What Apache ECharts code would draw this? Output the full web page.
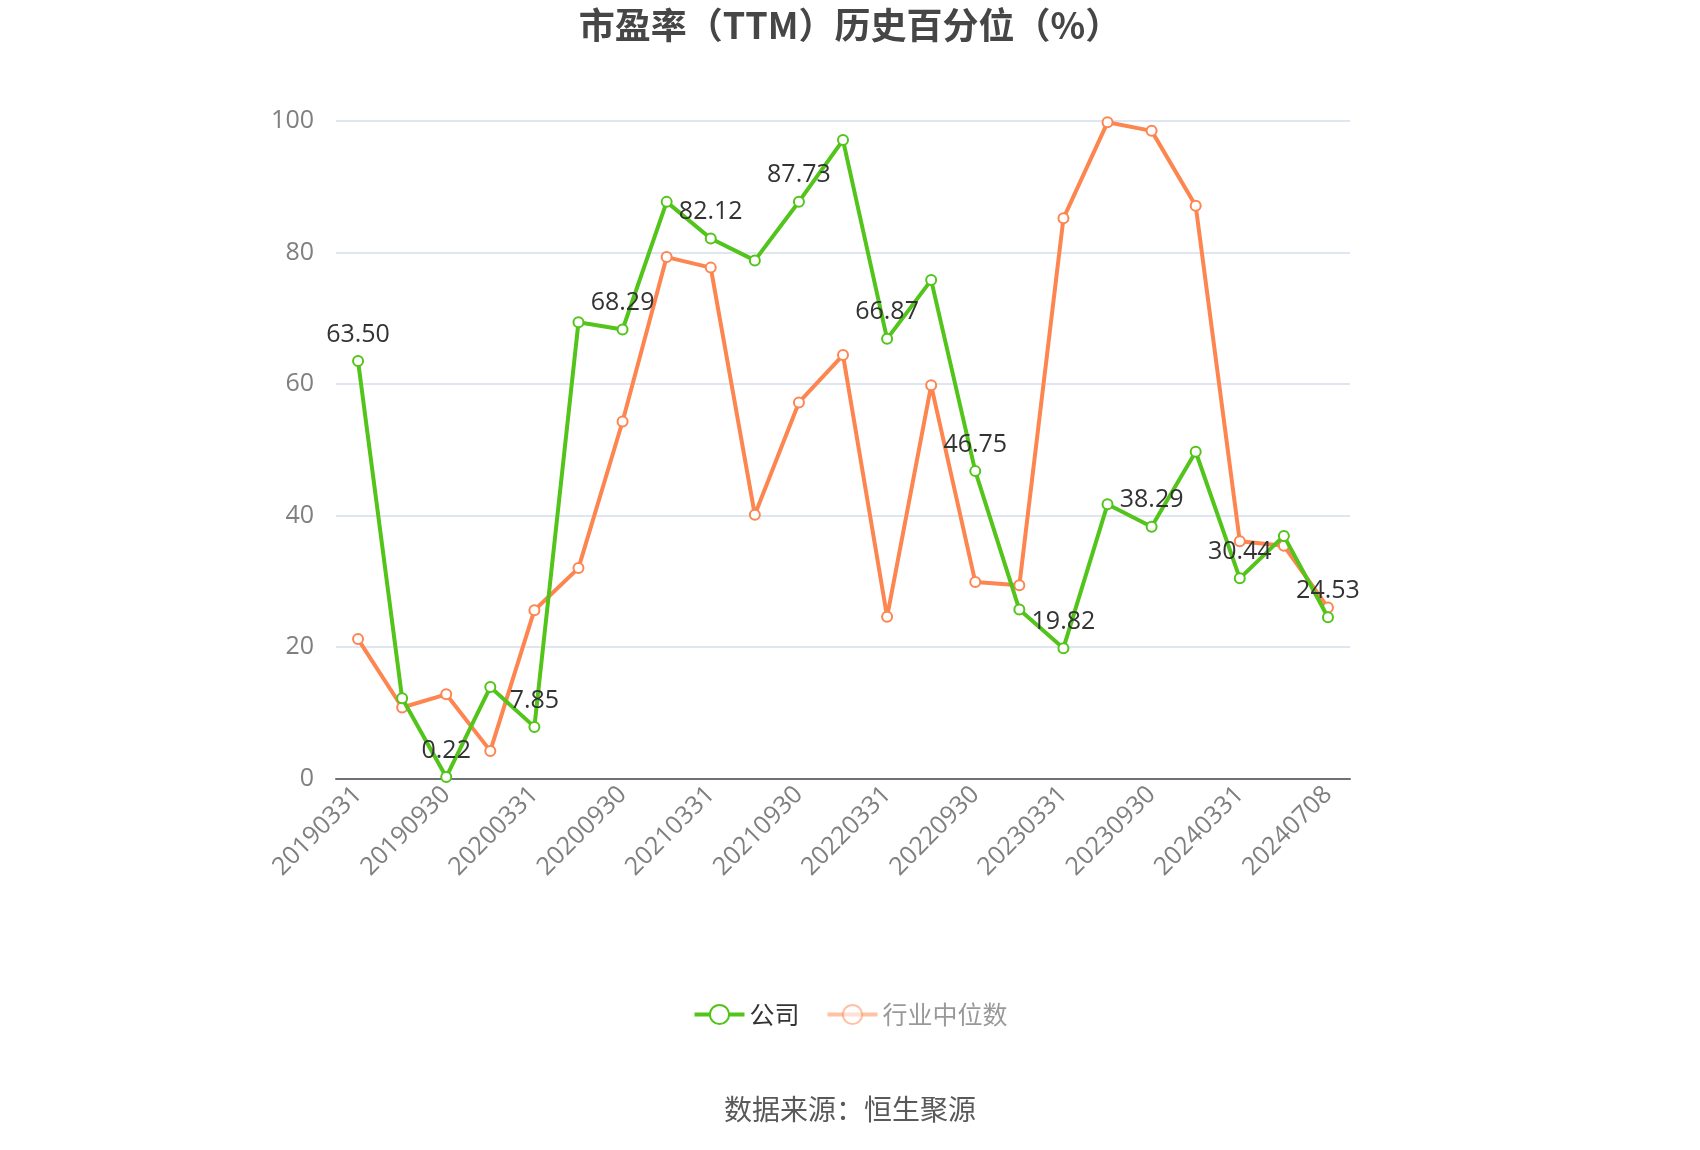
<!DOCTYPE html>
<html>
<head>
<meta charset="utf-8">
<script src="https://cdn.jsdelivr.net/npm/echarts@6/dist/echarts.min.js"></script>
<style>html,body{margin:0;padding:0;background:#fff}#c{width:1700px;height:1150px}</style>
</head>
<body>
<div id="c"></div>
<script>
const categories = ['20190331','20190630','20190930','20191231','20200331','20200630','20200930','20201231','20210331','20210630','20210930','20211231','20220331','20220630','20220930','20221231','20230331','20230630','20230930','20231231','20240331','20240630','20240708'];
const companyValues = [63.50,12.2,0.22,13.9,7.85,69.4,68.29,87.7,82.12,78.8,87.73,97.1,66.87,75.8,46.75,25.7,19.82,41.7,38.29,49.7,30.44,36.9,24.53];
const industryValues = [21.2,10.8,12.8,4.2,25.6,32.0,54.3,79.3,77.7,40.1,57.2,64.4,24.6,59.8,29.9,29.4,85.2,99.8,98.5,87.1,36.1,35.4,26.0];
const yTicks = [0,20,40,60,80,100];

const GREEN = '#52c41a';
const ORANGE = '#fd8550';
const chart = echarts.init(document.getElementById('c'));
chart.setOption({
  animation: false,
  backgroundColor: '#fff',
  title: {
    text: '市盈率（TTM）历史百分位（%）',
    left: 'center', top: 2,
    textStyle: {fontSize: 36, fontWeight: 'bold', color: '#464646', fontFamily: 'Noto Sans CJK SC'}
  },
  legend: {
    bottom: 118, left: 'center',
    itemWidth: 50, itemHeight: 24, itemGap: 26,
    textStyle: {fontSize: 25, color: '#333', fontFamily: 'Noto Sans CJK SC'},
    data: [
      {name: '公司', itemStyle: {borderWidth: 4}, lineStyle: {width: 4}},
      {name: '行业中位数', itemStyle: {opacity: 0.5, borderWidth: 4}, lineStyle: {opacity: 0.5, width: 4}, textStyle: {color: '#999'}}
    ]
  },
  graphic: [{
    type: 'text', left: 'center', top: 1095,
    style: {text: '数据来源：恒生聚源', fontSize: 28, fill: '#595959', fontFamily: 'Noto Sans CJK SC'}
  }],
  grid: {left: 336, right: 350, top: 121, bottom: 371.5},
  xAxis: {
    type: 'category', data: categories, boundaryGap: true,
    axisTick: {alignWithLabel: true, interval: 1, length: 7, lineStyle: {width: 2}},
    axisLine: {lineStyle: {color: '#6e7079', width: 2}},
    axisLabel: {interval: 1, rotate: 45, fontSize: 25, color: '#7f7f7f', fontFamily: 'Open Sans', margin: 12}
  },
  yAxis: {
    type: 'value', min: yTicks[0], max: yTicks[yTicks.length-1], interval: 20,
    axisLabel: {fontSize: 25, color: '#7f7f7f', fontFamily: 'Open Sans', margin: 22},
    splitLine: {lineStyle: {color: '#e0e6f1', width: 2}}
  },
  series: [
    {
      name: '公司', type: 'line', data: companyValues, z: 3,
      symbol: 'emptyCircle', symbolSize: 10,
      lineStyle: {color: GREEN, width: 4},
      itemStyle: {color: GREEN, borderWidth: 3},
      label: {
        show: true, position: 'top', fontSize: 25, color: '#333', fontFamily: 'Open Sans', distance: 8,
        formatter: p => (p.dataIndex % 2 === 0 ? p.value.toFixed(2) : '')
      }
    },
    {
      name: '行业中位数', type: 'line', data: industryValues, z: 2,
      symbol: 'emptyCircle', symbolSize: 10,
      lineStyle: {color: ORANGE, width: 4},
      itemStyle: {color: ORANGE, borderWidth: 3}
    }
  ]
});
</script>
</body>
</html>
